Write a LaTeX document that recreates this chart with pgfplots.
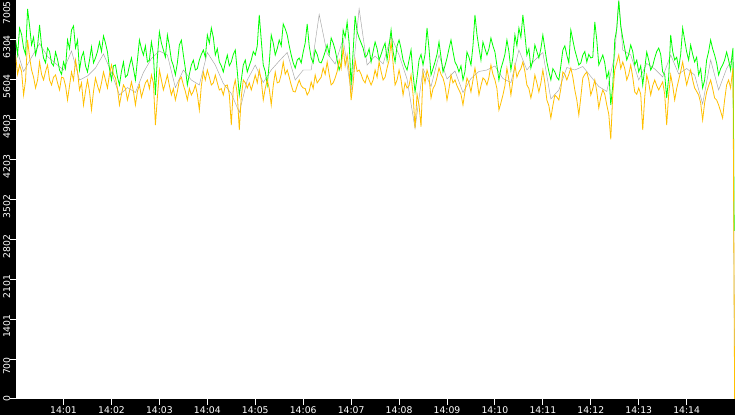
\documentclass[border=0pt]{standalone}
\usepackage{pgfplots}
\pgfplotsset{compat=1.18}
\usepackage{fontspec}
\setmainfont{DejaVu Sans}
\definecolor{lgreen}{RGB}{0,255,0}
\definecolor{lorange}{RGB}{255,192,0}
\definecolor{lgray}{RGB}{165,165,165}
\begin{document}
\begin{tikzpicture}
\useasboundingbox (0,0) rectangle (735bp,415bp);
\fill[black] (0,0) rectangle (735bp,415bp);
\begin{axis}[
  at={(16bp,16bp)}, anchor=south west,
  width=719bp, height=399bp, scale only axis,
  xmin=0.5, xmax=900.5, ymin=0, ymax=7005,
  axis background/.style={fill=white},
  axis line style={draw=none},
  xtick pos=bottom, ytick pos=left,
  tick align=outside,
  major tick length=5.5bp,
  tick style={white, line width=1bp},
  xtick={60,120,180,240,300,360,420,480,540,600,660,720,780,840},
  xticklabels={14:01,14:02,14:03,14:04,14:05,14:06,14:07,14:08,14:09,14:10,14:11,14:12,14:13,14:14},
  ytick={0,700.5,1401,2101.5,2802,3502.5,4203,4903.5,5604,6304.5,7005},
  yticklabels={\hspace*{2bp}0,700\hspace*{12bp},1401\hspace*{12bp},2101\hspace*{12bp},2802\hspace*{12bp},3502\hspace*{12bp},4203\hspace*{12bp},4903\hspace*{12bp},5604\hspace*{12bp},6304\hspace*{12bp},7005\hspace*{24bp}},
  xticklabel style={font=\fontsize{9.3}{10}\selectfont, text=white, inner sep=0pt, yshift=-2bp},
  yticklabel style={font=\fontsize{9.3}{10}\selectfont, text=white, rotate=90, anchor=south, inner sep=0pt, xshift=-1bp},
]
% gray series
\addplot[lgray, line width=0.45bp] coordinates {
(0,6200) (10,5750) (20,6000) (30,6240) (40,6013) (50,5890) (60,5776) (70,6110) (80,5600) (90,5671)
(100,5811) (110,6057) (120,5732) (130,5337) (140,5468) (150,5381) (160,5732) (170,5978) (180,6110) (190,6040)
(200,5468) (210,5776) (220,5600) (230,5513) (240,6083) (250,5863) (260,5539) (270,5363) (280,5030) (290,5600)
(300,5863) (310,5556) (320,5776) (330,5934) (340,6083) (350,5600) (360,5776) (370,5776) (380,6750) (390,6066)
(400,5881) (410,6320) (420,5400) (430,6850) (440,5863) (450,6022) (460,5881) (470,6373) (480,6040) (490,5618)
(500,4750) (510,5802) (520,5486) (530,6040) (540,5618) (550,5759) (560,5381) (570,5627) (580,5750) (590,5776)
(600,5846) (610,5627) (620,5556) (630,6127) (640,5776) (650,5951) (660,6083) (670,5267) (680,5425) (690,5820)
(700,5776) (710,5837) (720,5662) (730,5486) (740,5399) (750,6040) (755,7005) (760,6127) (770,6040) (780,5600)
(790,5890) (800,5794) (810,5653) (820,6040) (830,5706) (840,5802) (850,5688) (860,5179) (870,5952) (880,5425)
(890,5802) (898,5990) (900,0)
};
% green series
\addplot[lgreen, line width=0.8bp] coordinates {
(0,6303) (2.5,6050) (5,6513) (7.5,6400) (10,6162) (12.5,6050) (15,6847) (17.5,6550) (20,6215) (22.5,6350) (25,6039) (27.5,6200) (30,6566) (32.5,6200) (35,5987) (37.5,5900) (40,6162) (42.5,6100) (45,5899) (47.5,5850)
(50,6092) (52.5,5960) (55,5776) (57.5,5700) (60,5917) (62.5,5800) (65,6303) (67.5,6150) (70,6478) (72.5,6550) (75,6162) (77.5,6300) (80,5776) (82.5,6000) (85,6092) (87.5,5850) (90,5741) (92.5,5950) (95,6180) (97.5,5900)
(100,5987) (102.5,6100) (105,6268) (107.5,6100) (110,6373) (112.5,6250) (115,6092) (117.5,5800) (120,5601) (122.5,5850) (125,5864) (127.5,5650) (130,5513) (132.5,5750) (135,5917) (137.5,5650) (140,5688) (142.5,5850) (145,5987) (147.5,5800)
(150,5601) (152.5,5950) (155,6303) (157.5,6150) (160,6039) (162.5,6200) (165,5917) (167.5,5950) (170,6268) (172.5,6050) (175,5337) (177.5,6000) (180,6443) (182.5,6250) (185,6127) (187.5,6000) (190,6391) (192.5,6200) (195,5952) (197.5,5850)
(200,5688) (202.5,5900) (205,6215) (207.5,6300) (210,6039) (212.5,5800) (215,5513) (217.5,5700) (220,5864) (222.5,5950) (225,5776) (227.5,5800) (230,5952) (232.5,6050) (235,6127) (237.5,6000) (240,6391) (242.5,6250) (245,6513) (247.5,6350)
(250,6039) (252.5,6150) (255,5917) (257.5,5850) (260,5741) (262.5,5900) (265,6039) (267.5,5850) (270,5917) (272.5,6050) (275,6127) (277.5,5750) (280,5337) (282.5,5600) (285,5864) (287.5,5950) (290,5741) (292.5,5850) (295,5952) (297.5,6100)
(300,6039) (302.5,6200) (305,6742) (307.5,6300) (310,5864) (312.5,5750) (315,5513) (317.5,5900) (320,6391) (322.5,6250) (325,6039) (327.5,6150) (330,6303) (332.5,6200) (335,6584) (337.5,6500) (340,6391) (342.5,6200) (345,6039) (347.5,5900)
(350,5811) (352.5,5950) (355,5987) (357.5,5900) (360,6092) (362.5,6250) (365,6584) (367.5,6200) (370,5987) (372.5,5900) (375,6127) (377.5,6050) (380,5917) (382.5,5900) (385,5987) (387.5,6100) (390,6215) (392.5,6050) (395,6338) (397.5,6250)
(400,6127) (402.5,5950) (405,5776) (407.5,5900) (410,6478) (412.5,6350) (415,6619) (417.5,6250) (420,5513) (422.5,6100) (425,6724) (427.5,6450) (430,6338) (432.5,6250) (435,6162) (437.5,6000) (440,6039) (442.5,6150) (445,5917) (447.5,6100)
(450,6268) (452.5,6150) (455,5952) (457.5,6050) (460,6162) (462.5,6250) (465,5952) (467.5,6200) (470,6478) (472.5,6100) (475,5917) (477.5,6200) (480,6303) (482.5,6150) (485,5952) (487.5,5850) (490,5776) (492.5,5950) (495,6127) (497.5,5700)
(500,5390) (502.5,5650) (505,5952) (507.5,6050) (510,5864) (512.5,6050) (515,6513) (517.5,6150) (520,5688) (522.5,5800) (525,5917) (527.5,6050) (530,6268) (532.5,6000) (535,5741) (537.5,5850) (540,5987) (542.5,6150) (545,6303) (547.5,6100)
(550,5917) (552.5,5850) (555,5741) (557.5,5850) (560,5601) (562.5,5750) (565,6092) (567.5,6000) (570,5864) (572.5,6200) (575,6742) (577.5,6400) (580,6162) (582.5,5950) (585,6268) (587.5,6150) (590,6039) (592.5,6150) (595,6338) (597.5,6200)
(600,6092) (602.5,5850) (605,5601) (607.5,5800) (610,5917) (612.5,6050) (615,6303) (617.5,6100) (620,5776) (622.5,6000) (625,6391) (627.5,6200) (630,6513) (632.5,6350) (635,6742) (637.5,6400) (640,6039) (642.5,6150) (645,5811) (647.5,5950)
(650,6215) (652.5,6100) (655,5987) (657.5,6150) (660,6391) (662.5,6150) (665,5917) (667.5,5750) (670,5601) (672.5,5800) (675,5741) (677.5,5650) (680,5601) (682.5,5850) (685,6127) (687.5,6200) (690,6039) (692.5,5900) (695,6478) (697.5,6300)
(700,6127) (702.5,6000) (705,5864) (707.5,5900) (710,6039) (712.5,6100) (715,5917) (717.5,6050) (720,5987) (722.5,6000) (725,6619) (727.5,6300) (730,5864) (732.5,5950) (735,6039) (737.5,5900) (740,5636) (742.5,5750) (745,5162) (747.5,5500)
(750,6303) (752.5,6500) (755,6990) (757.5,6550) (760,6338) (762.5,6150) (765,5952) (767.5,6050) (770,6215) (772.5,6100) (775,5864) (777.5,5950) (780,5741) (782.5,5850) (785,5513) (787.5,5800) (790,6092) (792.5,5950) (795,5776) (797.5,5850)
(800,5987) (802.5,6100) (805,6162) (807.5,6050) (810,5741) (812.5,5700) (815,5284) (817.5,5650) (820,6391) (822.5,6100) (825,5952) (827.5,6000) (830,5811) (832.5,6050) (835,6513) (837.5,6300) (840,6092) (842.5,5950) (845,6215) (847.5,6050)
(850,5917) (852.5,6000) (855,5688) (857.5,5800) (860,5460) (862.5,5600) (865,5952) (867.5,6100) (870,6303) (872.5,6150) (875,6039) (877.5,5900) (880,5688) (882.5,5800) (885,5864) (887.5,5950) (890,6092) (892.5,5950) (895,5776) (896.5,6000)
(898,6162) (899.5,2950)
};
% orange series
\addplot[lorange, line width=0.8bp] coordinates {
(0,6039) (2.5,5700) (5,5864) (7.5,5750) (10,5337) (12.5,5600) (15,6303) (17.5,6000) (20,5776) (22.5,5650) (25,5460) (27.5,5600) (30,5917) (32.5,5700) (35,5601) (37.5,5750) (40,5864) (42.5,5600) (45,5513) (47.5,5650)
(50,5688) (52.5,5550) (55,5425) (57.5,5650) (60,5636) (62.5,5500) (65,5249) (67.5,5500) (70,5741) (72.5,5600) (75,5952) (77.5,5750) (80,5425) (82.5,5550) (85,5162) (87.5,5400) (90,5601) (92.5,5400) (95,5074) (97.5,5400)
(100,5636) (102.5,5500) (105,5390) (107.5,5550) (110,5741) (112.5,5600) (115,5460) (117.5,5700) (120,5864) (122.5,5700) (125,5636) (127.5,5450) (130,5162) (132.5,5350) (135,5513) (137.5,5450) (140,5249) (142.5,5400) (145,5566) (147.5,5400)
(150,5162) (152.5,5400) (155,5513) (157.5,5300) (160,5425) (162.5,5550) (165,5601) (167.5,5450) (170,5688) (172.5,5550) (175,4810) (177.5,5300) (180,5776) (182.5,5600) (185,5425) (187.5,5550) (190,5688) (192.5,5500) (195,5337) (197.5,5450)
(200,5249) (202.5,5400) (205,5601) (207.5,5650) (210,5513) (212.5,5400) (215,5249) (217.5,5450) (220,5337) (222.5,5400) (225,5513) (227.5,5350) (230,5074) (232.5,5500) (235,5741) (237.5,5600) (240,5776) (242.5,5650) (245,5513) (247.5,5550)
(250,5688) (252.5,5550) (255,5425) (257.5,5450) (260,5337) (262.5,5500) (265,5513) (267.5,5350) (270,4810) (272.5,5450) (275,5601) (277.5,5350) (280,4723) (282.5,5300) (285,5601) (287.5,5550) (290,5460) (292.5,5550) (295,5425) (297.5,5550)
(300,5688) (302.5,5550) (305,5776) (307.5,5600) (310,5249) (312.5,5450) (315,5601) (317.5,5450) (320,5162) (322.5,5500) (325,5741) (327.5,5550) (330,5566) (332.5,5700) (335,5917) (337.5,5700) (340,5776) (342.5,5650) (345,5513) (347.5,5400)
(350,5390) (352.5,5500) (355,5601) (357.5,5500) (360,5460) (362.5,5450) (365,5337) (367.5,5400) (370,5566) (372.5,5450) (375,5688) (377.5,5550) (380,5601) (382.5,5650) (385,5811) (387.5,5700) (390,5917) (392.5,5700) (395,5513) (397.5,5550)
(400,5636) (402.5,5750) (405,5952) (407.5,5800) (410,6162) (412.5,5850) (415,6039) (417.5,5750) (420,5249) (422.5,5550) (425,5952) (427.5,5750) (430,5776) (432.5,5700) (435,5601) (437.5,5550) (440,5688) (442.5,5600) (445,5513) (447.5,5600)
(450,5776) (452.5,5650) (455,5917) (457.5,5750) (460,5601) (462.5,5650) (465,5811) (467.5,5950) (470,6268) (472.5,5900) (475,5513) (477.5,5600) (480,5776) (482.5,5600) (485,5337) (487.5,5550) (490,5460) (492.5,5500) (495,5688) (497.5,5350)
(500,4758) (502.5,5350) (505,5162) (507.5,4780) (510,5741) (512.5,5550) (515,5776) (517.5,5650) (520,5284) (522.5,5450) (525,5513) (527.5,5650) (530,5811) (532.5,5700) (535,5636) (537.5,5500) (540,5249) (542.5,5450) (545,5688) (547.5,5550)
(550,5601) (552.5,5500) (555,5425) (557.5,5350) (560,5162) (562.5,5400) (565,5636) (567.5,5550) (570,5390) (572.5,5600) (575,5811) (577.5,5600) (580,5337) (582.5,5500) (585,5636) (587.5,5600) (590,5513) (592.5,5650) (595,5864) (597.5,5700)
(600,5601) (602.5,5450) (605,5074) (607.5,5200) (610,5337) (612.5,5500) (615,5811) (617.5,5600) (620,5337) (622.5,5600) (625,5864) (627.5,5650) (630,5741) (632.5,5800) (635,5917) (637.5,5750) (640,5513) (642.5,5450) (645,5284) (647.5,5450)
(650,5688) (652.5,5550) (655,5390) (657.5,5550) (660,5776) (662.5,5550) (665,5249) (667.5,5150) (670,4933) (672.5,5150) (675,5337) (677.5,5300) (680,5249) (682.5,5450) (685,5741) (687.5,5700) (690,5601) (692.5,5700) (695,5811) (697.5,5650)
(700,5425) (702.5,5250) (705,4986) (707.5,5300) (710,5636) (712.5,5700) (715,5741) (717.5,5600) (720,5337) (722.5,5450) (725,5601) (727.5,5400) (730,5109) (732.5,5300) (735,5425) (737.5,5350) (740,5162) (742.5,5000) (745,4560) (747.5,5350)
(750,5776) (752.5,5900) (755,6039) (757.5,5800) (760,5917) (762.5,5800) (765,5601) (767.5,5700) (770,5864) (772.5,5650) (775,5390) (777.5,5350) (780,5460) (782.5,5350) (785,4723) (787.5,5300) (790,5688) (792.5,5550) (795,5337) (797.5,5500)
(800,5601) (802.5,5500) (805,5425) (807.5,5500) (810,5566) (812.5,5350) (815,4810) (817.5,5350) (820,5688) (822.5,5500) (825,5249) (827.5,5450) (830,5601) (832.5,5750) (835,5917) (837.5,5700) (840,5513) (842.5,5650) (845,5776) (847.5,5600)
(850,5460) (852.5,5400) (855,5337) (857.5,5200) (860,4898) (862.5,5200) (865,5390) (867.5,5500) (870,5601) (872.5,5450) (875,5284) (877.5,5250) (880,5162) (882.5,5050) (885,4933) (887.5,5250) (890,5513) (892.5,5600) (895,5460) (896.5,5650)
(898,5811) (900,0)
};
\end{axis}
\end{tikzpicture}
\end{document}
